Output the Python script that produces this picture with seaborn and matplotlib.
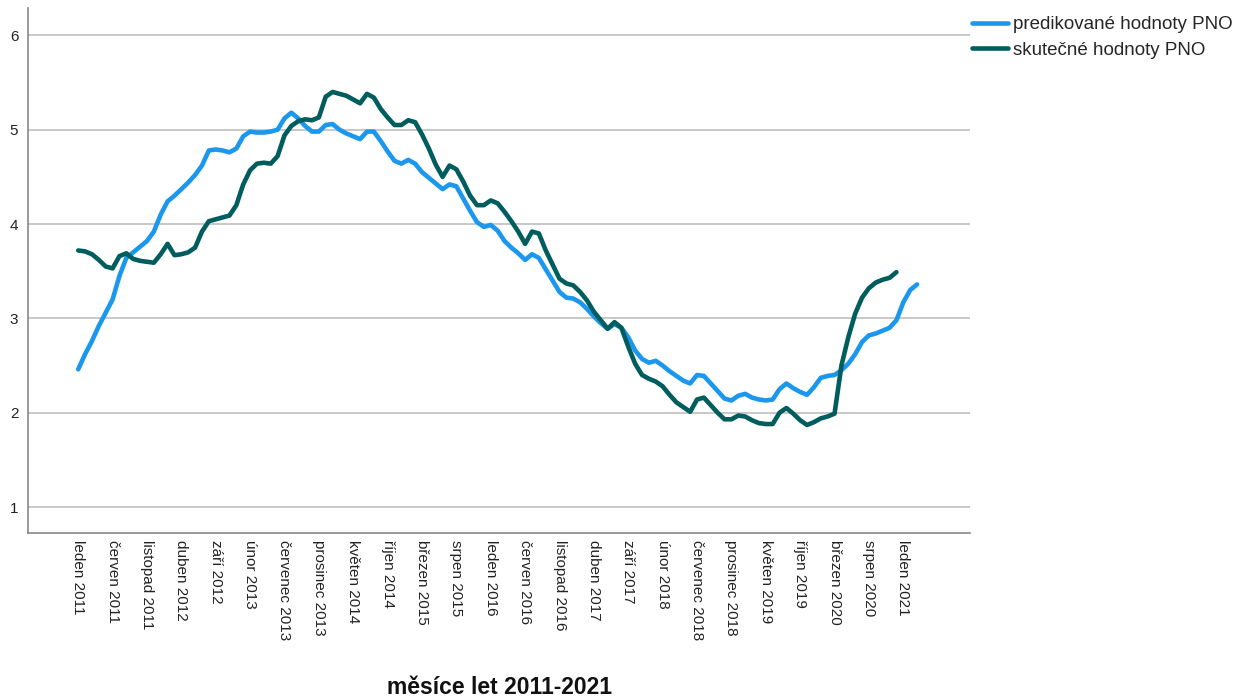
import numpy as np
import pandas as pd
import matplotlib
matplotlib.use("Agg")
import matplotlib.pyplot as plt
from matplotlib.lines import Line2D
import seaborn as sns

# ---- data ----
predicted = [2.46, 2.62, 2.76, 2.92, 3.06, 3.20, 3.45, 3.64, 3.70, 3.76,
             3.82, 3.92, 4.10, 4.24, 4.30, 4.37, 4.44, 4.52, 4.62, 4.78,
             4.79, 4.78, 4.76, 4.80, 4.93, 4.98, 4.97, 4.97, 4.98, 5.00,
             5.12, 5.18, 5.12, 5.04, 4.98, 4.98, 5.05, 5.06, 5.00, 4.96,
             4.93, 4.90, 4.98, 4.98, 4.88, 4.77, 4.67, 4.64, 4.68, 4.64,
             4.55, 4.49, 4.43, 4.37, 4.42, 4.40, 4.27, 4.14, 4.02, 3.97,
             3.99, 3.93, 3.82, 3.75, 3.69, 3.62, 3.68, 3.64, 3.52, 3.40,
             3.28, 3.22, 3.21, 3.17, 3.10, 3.02, 2.95, 2.89, 2.94, 2.90,
             2.80, 2.66, 2.57, 2.53, 2.55, 2.50, 2.44, 2.39, 2.34, 2.31,
             2.40, 2.39, 2.31, 2.23, 2.15, 2.13, 2.18, 2.20, 2.16, 2.14,
             2.13, 2.14, 2.25, 2.31, 2.26, 2.22, 2.19, 2.27, 2.37, 2.39,
             2.40, 2.45, 2.52, 2.62, 2.75, 2.82, 2.84, 2.87, 2.90, 2.98,
             3.17, 3.30, 3.36]

actual = [3.72, 3.71, 3.68, 3.62, 3.55, 3.53, 3.66, 3.69, 3.63, 3.61,
          3.60, 3.59, 3.68, 3.79, 3.67, 3.68, 3.70, 3.75, 3.92, 4.03,
          4.05, 4.07, 4.09, 4.20, 4.42, 4.57, 4.64, 4.65, 4.64, 4.72,
          4.94, 5.04, 5.09, 5.11, 5.10, 5.13, 5.35, 5.40, 5.38, 5.36,
          5.32, 5.28, 5.38, 5.34, 5.22, 5.13, 5.05, 5.05, 5.10, 5.08,
          4.95, 4.80, 4.63, 4.50, 4.62, 4.58, 4.45, 4.30, 4.20, 4.20,
          4.25, 4.22, 4.13, 4.03, 3.92, 3.79, 3.92, 3.90, 3.72, 3.57,
          3.42, 3.37, 3.35, 3.28, 3.19, 3.07, 2.98, 2.89, 2.96, 2.90,
          2.70, 2.52, 2.40, 2.36, 2.33, 2.28, 2.19, 2.11, 2.06, 2.01,
          2.14, 2.16, 2.08, 2.00, 1.93, 1.93, 1.97, 1.96, 1.92, 1.89,
          1.88, 1.88, 2.00, 2.05, 1.99, 1.92, 1.87, 1.90, 1.94, 1.96,
          1.99, 2.50, 2.80, 3.05, 3.22, 3.32, 3.38, 3.41, 3.43, 3.49]

tick_labels = ["leden 2011", "červen 2011", "listopad 2011", "duben 2012",
               "září 2012", "únor 2013", "červenec 2013", "prosinec 2013",
               "květen 2014", "říjen 2014", "březen 2015", "srpen 2015",
               "leden 2016", "červen 2016", "listopad 2016", "duben 2017",
               "září 2017", "únor 2018", "červenec 2018", "prosinec 2018",
               "květen 2019", "říjen 2019", "březen 2020", "srpen 2020",
               "leden 2021"]

series_names = ["predikované hodnoty PNO", "skutečné hodnoty PNO"]
colors = ["#1b98ee", "#005d5d"]
x_label = "měsíce let 2011-2021"

# ---- long-form table ----
df = pd.concat([
    pd.DataFrame({"month": np.arange(len(predicted)), "value": predicted,
                  "series": series_names[0]}),
    pd.DataFrame({"month": np.arange(len(actual)), "value": actual,
                  "series": series_names[1]}),
], ignore_index=True)

sns.set_theme(style="white")
plt.rcParams["font.family"] = ["Liberation Sans", "DejaVu Sans"]

fig = plt.figure(figsize=(12.46, 6.99), dpi=100)
ax = fig.add_axes([28 / 1246, 1 - 533 / 699, (970 - 28) / 1246, (533 - 8) / 699])

LW = 3.3
sns.lineplot(data=df, x="month", y="value", hue="series",
             palette=dict(zip(series_names, colors)), linewidth=LW,
             ax=ax, legend=False, solid_capstyle="round", solid_joinstyle="round")

ax.set_xlim(-7.3, 129.7)
ax.set_ylim(0.725, 6.29)
ax.set_yticks([1, 2, 3, 4, 5, 6])
ax.set_yticklabels(["1", "2", "3", "4", "5", "6"], fontsize=11, color="#222222")
ax.set_xticks(np.arange(0, 5 * len(tick_labels), 5))
ax.set_xticklabels(tick_labels, rotation=-90, fontsize=11, color="#222222",
                   va="top", ha="center")
ax.tick_params(axis="both", length=0)
ax.tick_params(axis="x", pad=5)
ax.tick_params(axis="y", pad=7)
ax.grid(axis="y", color="#c4c4c4", linewidth=1.3)
ax.set_axisbelow(True)
for s in ["top", "right"]:
    ax.spines[s].set_visible(False)
for s in ["left", "bottom"]:
    ax.spines[s].set_color("#888888")
    ax.spines[s].set_linewidth(1.2)

ax.set_ylabel("")
ax.set_xlabel(x_label, fontsize=16.5, fontweight="bold", color="#111111", va="center")
ax.xaxis.set_label_coords(0.5, -(688 - 533) / 525)

handles = [Line2D([0], [0], color=c, linewidth=LW) for c in colors]
fig.legend(handles, series_names, loc="upper left",
           bbox_to_anchor=(972 / 1246, 1 - 16 / 699), frameon=False,
           fontsize=13.5, handlelength=1.9, handletextpad=0.3,
           labelspacing=0.45, borderpad=0, borderaxespad=0)

fig.savefig("out.png", dpi=100)
